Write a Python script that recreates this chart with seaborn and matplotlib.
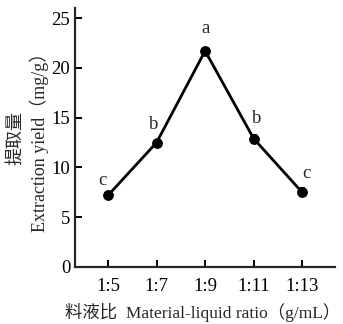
import numpy as np
import pandas as pd
import matplotlib.pyplot as plt
import seaborn as sns

ratios = ['1:5', '1:7', '1:9', '1:11', '1:13']
yield_mean = [7.2, 12.5, 21.7, 12.9, 7.5]
yield_err = [0.2, 0.2, 0.3, 0.4, 0.4]
letters = ['c', 'b', 'a', 'b', 'c']

df = pd.DataFrame({'pos': range(len(ratios)), 'ratio': ratios,
                   'y': yield_mean, 'err': yield_err})

sns.set_style('ticks')
plt.rcParams['font.family'] = ['Liberation Serif', 'Noto Sans CJK SC']
plt.rcParams['axes.linewidth'] = 1.6

fig = plt.figure(figsize=(3.43, 3.24), dpi=100)
ax = fig.add_axes([0.219, 0.176, 0.758, 0.799])

ax.errorbar(df['pos'], df['y'], yerr=df['err'], fmt='none', ecolor='black',
            elinewidth=1.2, capsize=2.5, capthick=1.2)
sns.lineplot(data=df, x='pos', y='y', color='black', linewidth=2,
             marker='o', markersize=7, markeredgecolor='black', ax=ax)

# letter annotations
offs = [(-0.12, 1.5), (-0.07, 1.8), (0.0, 2.3), (0.07, 2.0), (0.08, 1.9)]
for i, (dx, dy) in enumerate(offs):
    ax.text(df['pos'][i] + dx, df['y'][i] + dy, letters[i],
            ha='center', va='center', fontsize=13.5)

ax.set_xlim(-0.68, 4.68)
ax.set_ylim(0, 26)
ax.set_yticks([0, 5, 10, 15, 20, 25])
ax.set_xticks(df['pos'])
ax.set_xticklabels(ratios)
ax.tick_params(direction='in', length=5, width=1.4, labelsize=13.5, colors='black')
ax.tick_params(axis='x', pad=8)
sns.despine(ax=ax)

ax.set_xlabel('料液比  Material-liquid ratio（g/mL）', fontsize=12.5)
ax.xaxis.set_label_coords(0.49, -0.14)
ax.set_ylabel('提取量\nExtraction yield（mg/g）', fontsize=13, labelpad=2,
              multialignment='center', linespacing=1.3)

fig.savefig('out.png', dpi=100)
